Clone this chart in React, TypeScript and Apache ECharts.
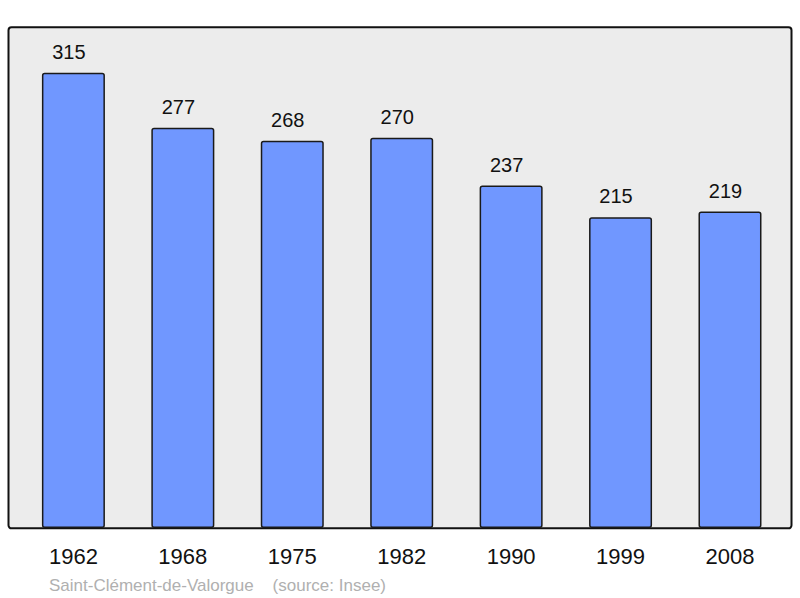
import React, { useEffect, useRef } from "react";
import * as echarts from "echarts";

const years = ["1962", "1968", "1975", "1982", "1990", "1999", "2008"];
const population = [315, 277, 268, 270, 237, 215, 219];
const commune = "Saint-Clément-de-Valorgue";
const sourceText = "(source: Insee)";

const FONT = "'Liberation Sans', Arial, sans-serif";

export default function App() {
  const ref = useRef<HTMLDivElement>(null);
  useEffect(() => {
    if (!ref.current) return;
    const chart = echarts.init(ref.current, undefined, { renderer: "svg" });
    const yMax = Math.max(...population) * 1.1;
    chart.setOption({
      animation: false,
      backgroundColor: "#ffffff",
      textStyle: { fontFamily: FONT },
      graphic: [
        {
          type: "rect",
          z: -10,
          shape: { x: 8.5, y: 27.3, width: 783, height: 501, r: 3 },
          style: { fill: "#ececec", stroke: "#111111", lineWidth: 2 },
        },
        {
          type: "text",
          x: 49,
          y: 585,
          style: {
            text: commune + "    " + sourceText,
            fill: "#b0b0b0",
            font: "17px " + FONT,
            verticalAlign: "middle",
            align: "left",
          },
        },
      ],
      grid: { left: 18.7, width: 766, top: 27.3, height: 500.7, containLabel: false },
      xAxis: {
        type: "category",
        data: years,
        axisLine: { show: false },
        axisTick: { show: false },
        axisLabel: { color: "#111111", fontSize: 22, margin: 17, fontFamily: FONT },
      },
      yAxis: {
        type: "value",
        min: 0,
        max: yMax,
        show: false,
        splitLine: { show: false },
      },
      series: [
        {
          type: "bar",
          data: population,
          barWidth: 63,
          itemStyle: {
            color: "#7097ff",
            borderColor: "#1a1a1a",
            borderWidth: 1.5,
            borderRadius: 2,
          },
          label: {
            show: true,
            position: "top",
            distance: 11,
            offset: [-4.5, 0],
            color: "#111111",
            fontSize: 20,
            fontFamily: FONT,
          },
        },
      ],
    });
    return () => chart.dispose();
  }, []);
  return <div ref={ref} style={{ width: 800, height: 598, position: "absolute", left: 0, top: 0 }} />;
}
